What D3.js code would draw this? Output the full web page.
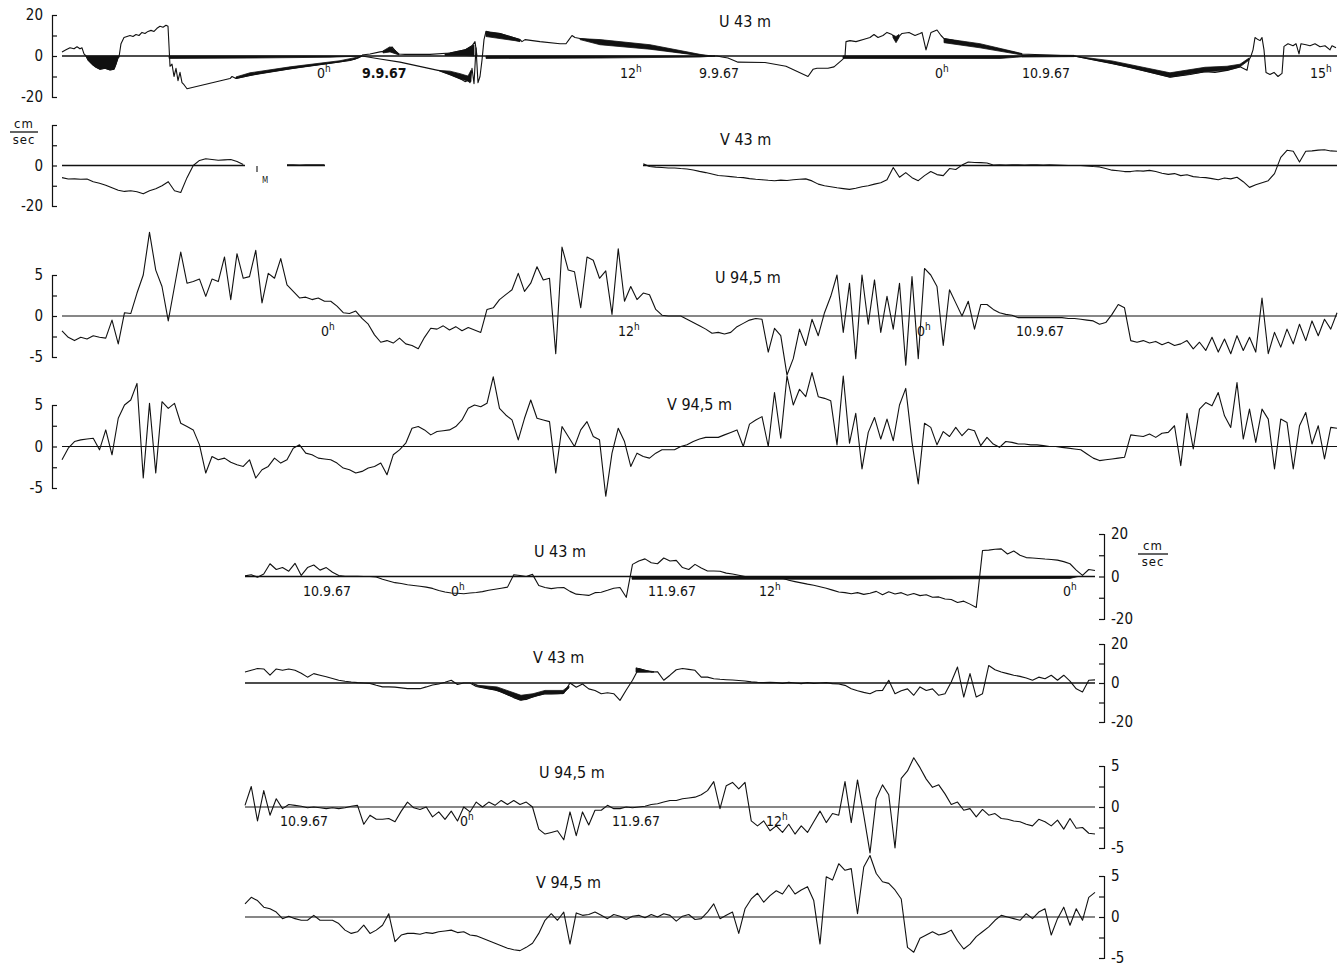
<!DOCTYPE html>
<html>
<head>
<meta charset="utf-8">
<script src="https://cdn.jsdelivr.net/npm/d3@7"></script>
<style>
  html, body { margin: 0; padding: 0; background: #fff; }
  svg { display: block; }
  text { font-family: 'DejaVu Sans Condensed', 'DejaVu Sans', sans-serif; fill: #111; }
</style>
</head>
<body>
<script>
var width = 1344;
var height = 972;
var step = 0.25; // hours between digitised samples

// ---------- upper record, hours from start of record ----------
// U 43 m is drawn as separate pen traces [hour, cm/s]
var u43TopTraceA = [[0,2],[0.16,3],[0.32,4],[0.48,3.5],[0.6,4.5],[0.72,3.5],[0.8,4],[0.88,1],[0.96,0],[1.04,-2],[1.2,-4],[1.36,-5.5],[1.52,-6.5],[1.72,-6],[1.92,-6.8],[2.08,-6.5],[2.16,-4],[2.24,-1],[2.28,-0.5],[2.36,6],[2.48,9],[2.6,9.5],[2.72,10],[2.84,9.5],[2.96,10.5],[3.08,10],[3.2,11.5],[3.32,11],[3.44,12],[3.56,12.5],[3.68,12],[3.8,13.5],[3.92,14.5],[4.04,14],[4.16,15],[4.24,14.5],[4.28,5],[4.32,-5],[4.4,-4],[4.48,-10],[4.56,-6],[4.64,-12],[4.72,-8],[4.8,-13],[4.88,-14],[5.0,-16],[6.72,-11],[6.8,-10],[6.96,-11],[7.92,-8.5],[9.52,-5.5],[10.72,-3.5],[11.52,-2.2],[11.84,-1],[12.0,0]];
var u43TopTraceB = [[12.0,0],[12.72,-1.5],[13.52,-3],[15.04,-7],[15.52,-9],[15.72,-10],[15.92,-11],[16.12,-12.5],[16.24,-12],[16.32,-13],[16.4,-6],[16.48,-13.5],[16.56,4],[16.64,-13],[16.72,-10],[16.8,-2],[16.88,8],[16.96,12],[17.12,11.5],[17.52,11],[17.92,9.5],[18.32,8],[18.4,7],[18.52,8],[19.12,7],[19.92,6],[20.16,6],[20.28,8],[20.4,10],[20.52,9],[20.72,8.5],[25.72,0]];
var u43TopTraceC = [[12.0,0.5],[12.32,1],[12.72,2],[13.04,2.5],[13.2,4.5],[13.36,2],[13.48,1],[13.72,0.8],[14.72,0.8],[15.52,1.5],[16.12,3],[16.4,5],[16.52,7],[16.6,0]];
var u43TopTraceD = [[26.0,0],[26.2,0],[26.4,-0.5],[26.64,-1],[27.04,-3],[28.12,-3.2],[28.96,-5],[29.84,-10],[30.04,-6.5],[30.2,-6],[30.64,-6],[30.88,-5.3],[31.24,-1.5],[31.32,0],[31.36,7],[31.52,7.5],[31.76,7],[32.12,8.3],[32.32,9],[32.48,10.5],[32.64,9],[32.84,10],[33.0,11.5],[33.2,10.5],[33.36,8],[33.6,11],[33.88,11.5],[34.12,10],[34.32,11],[34.4,11.5],[34.56,3],[34.76,11.5],[35.0,12.7],[35.16,10],[35.28,8.5],[38.4,1],[40.48,0]];
var u43TopTraceE = [[40.48,0],[41.52,-2.5],[42.72,-5.5],[44.32,-10.3],[45.12,-9],[45.72,-7.7],[46.12,-8],[46.6,-7],[47.12,-5.3],[47.4,-7],[47.48,-2],[47.56,0],[47.64,3],[47.72,9],[47.84,8],[47.92,7.5],[48.0,9],[48.08,3],[48.16,-8],[48.32,-9],[48.48,-8],[48.64,-10],[48.8,-8.5],[48.88,4.7],[49.04,6],[49.24,5],[49.36,6],[49.48,1],[49.56,6],[49.76,5.5],[49.92,5],[50.12,6],[50.32,4.5],[50.52,5],[50.72,3],[50.8,5],[50.96,4]];
// blackened parts of the U 43 m record [hour, low, high]
var u43TopFill1 = [[0.96,0,0],[1.04,-2,0],[1.2,-4,0],[1.36,-5.5,0],[1.52,-6.5,0],[1.72,-6,0],[1.92,-6.8,0],[2.08,-6.5,0],[2.16,-4,0],[2.24,-1,0],[2.28,0,0]];
var u43TopFill2 = [[6.96,-11,-10.2],[7.52,-9.5,-8.2],[9.12,-6.3,-5.3],[11.12,-2.9,-2.3],[11.72,-1.6,-0.8],[12.0,0,0]];
var u43TopFill3 = [[15.04,-7,-7],[15.52,-9.2,-7.4],[15.92,-11.2,-8.6],[16.24,-12.2,-9.8],[16.36,-12.5,-7]];
var u43TopFill4 = [[16.96,9.5,12],[17.52,8.5,11],[18.12,7.5,8.8],[18.32,7,8]];
var u43TopFill5 = [[20.72,8,8.5],[21.52,5.5,8],[23.52,3.3,5.5],[25.52,0.2,0.8],[26.0,0,0]];
var u43TopFill6 = [[12.84,1.5,2.5],[13.12,2,4.5],[13.36,1,2.5],[13.48,0.5,1]];
var u43TopFill7 = [[15.32,0.3,1],[16.12,0.3,3],[16.48,0,5.5]];
var u43TopFill8 = [[35.28,6.5,8.5],[36.72,4,6],[38.4,0.5,1.2]];
var u43TopFill9 = [[33.24,9,10.2],[33.36,6.5,9.5],[33.48,9,10.5]];
var u43TopFill10 = [[40.48,0,0],[42.0,-3.6,-2.4],[44.32,-10.3,-8.2],[45.72,-7.7,-5.5],[46.6,-7,-5],[47.12,-5.3,-4],[47.48,-2,-1]];
var u43TopZero1 = [[4.28,-1.2,0],[7.52,-1,0],[10.72,-0.6,0],[12.0,0,0]];
var u43TopZero2 = [[16.96,-1.2,0],[21.52,-1,0],[25.52,-0.5,0],[26.12,0,0]];
var u43TopZero3 = [[31.24,-1.2,0],[37.52,-1.2,0],[38.4,-0.4,0]];
var u43TopZero4 = [[38.4,-0.5,0.5],[40.48,-0.3,0.3]];

// V 43 m, one sample every 0.25 h, null where the record is missing
var v43Top = [
  -6.0,-6.7,-6.6,-6.8,-6.7,-8.0,-8.8,-9.8, -11.0,-12.2,-12.8,-12.5,-13.0,-14.0,-12.5,-11.5,
  -10.0,-8.0,-12.5,-13.3,-6.0,0.0,2.5,3.3, 3.0,2.6,2.8,3.0,2.0,0.5,null,null,
  null,null,null,null,0.3,0.3,0.2,0.3, 0.3,0.4,0.3,
  null,null,null,null,null,null,null,null,null,null,null,null,null,null,null,null,null,null,null,null,null,null,null,null,null,
  null,null,null,null,null,null,null,null,null,null,null,null,null,null,null,null,null,null,null,null,null,null,null,null,null,
  0.8,-0.5,-0.8,-1.0,-1.2,-1.2,-1.5,-1.7,-2.2,-2.9,-3.5,-4.2,-4.9,-5.2,-5.5,-5.8,-6.0,-6.5,-6.8,-7.0,
  -7.3,-7.5,-7.2,-7.4,-7.0,-6.8,-6.6,-7.6,-9.2,-10.0,-10.5,-11.0,-11.4,-11.8,-11.2,-10.5,-10.0,-9.2,-8.5,-7.0,
  -1.0,-5.8,-3.5,-6.0,-7.5,-5.0,-3.0,-4.5,-5.0,-1.5,-2.0,0.2,1.7,1.5,1.4,1.2,0.2,0.3,0.2,0.3,
  0.3,0.2,0.3,0.3,0.2,0.3,0.2,0.1,0.0,0.0,0.0,-0.2,-0.5,-0.7,-1.5,-2.3,-2.6,-3.0,-3.0,-2.6,
  -2.8,-2.4,-3.0,-3.8,-4.4,-4.0,-5.0,-4.6,-5.5,-5.8,-6.0,-6.5,-7.0,-6.2,-6.6,-5.8,-8.0,-10.8,-9.5,-8.5,
  -7.5,-4.0,4.0,7.5,7.0,1.7,7.0,7.2,7.6,7.8,7.2,7.0
];
var v43TopZero = [[0, 7.32], [9.0, 10.52], [23.24, 51]];
var v43TopMark = [[7.8, -0.3], [7.8, -3.2]];

var u945Top = [
  -1.8,-2.6,-3.0,-2.6,-2.8,-2.4,-2.6,-2.7, -0.5,-3.4,0.4,0.3,2.8,5.0,10.2,5.6,
  3.6,-0.6,3.6,7.8,4.0,4.2,4.5,2.4, 4.5,4.2,7.2,2.0,7.6,4.6,4.8,8.0,
  1.6,5.2,4.6,7.0,3.8,3.0,2.2,2.3, 2.0,2.2,1.8,1.8,1.2,0.4,0.3,0.6,
  -0.3,-1.0,-2.3,-3.2,-3.0,-3.3,-2.7,-3.4, -3.6,-4.0,-2.6,-1.5,-1.6,-1.2,-1.7,-1.3,
  -1.8,-1.4,-1.7,-2.0,0.8,1.0,2.0,2.6, 3.2,5.2,3.0,4.0,6.0,4.4,4.6,-4.6,
  8.4,5.6,5.4,1.0,7.2,6.8,4.6,5.5, 0.2,8.2,1.8,3.6,2.0,2.8,2.6,0.8,
  0.1,0.0,0.0,0.0,-0.4,-0.8,-1.2,-1.6, -2.1,-2.0,-2.2,-2.0,-1.3,-0.9,-0.5,-0.3,
  -0.4,-4.4,-1.5,-2.4,-7.2,-5.2,-1.6,-3.6, -0.4,-2.4,0.4,2.4,5.0,-2.0,4.0,-5.2,
  5.0,-1.0,4.4,-2.0,2.4,-1.6,4.0,-6.0, 4.8,-5.2,5.8,5.0,3.6,-3.6,3.2,1.6,
  0.0,1.8,-1.6,1.4,1.4,0.8,0.4,0.2, 0.1,-0.2,-0.2,-0.2,-0.2,-0.2,-0.2,-0.2,
  -0.2,-0.3,-0.3,-0.4,-0.5,-0.6,-1.0,-0.8, 0.2,1.4,1.0,-3.0,-3.2,-3.0,-3.3,-3.1,
  -3.5,-3.2,-3.6,-3.4,-3.0,-4.0,-3.2,-4.2, -2.6,-4.4,-2.8,-4.6,-2.4,-4.2,-2.6,-4.4,
  2.2,-4.6,-2.0,-3.8,-1.6,-3.4,-1.0,-3.0, -0.6,-2.4,-0.4,-1.6,0.4
];

var v945Top = [
  -1.6,-0.2,0.6,0.8,0.9,1.0,-0.4,2.0, -1.0,3.4,5.0,5.6,7.6,-3.8,5.2,-3.2,
  5.4,4.6,5.2,2.8,2.4,2.0,0.2,-3.2, -1.2,-1.6,-1.4,-1.9,-2.2,-2.4,-1.6,-3.8,
  -2.8,-2.4,-1.4,-2.0,-1.6,-0.2,0.2,-0.8, -1.0,-1.4,-1.5,-1.6,-2.0,-2.6,-2.8,-3.2,
  -3.0,-2.6,-2.4,-2.0,-3.4,-1.0,-0.4,0.4, 2.2,2.4,2.0,1.4,1.8,1.9,2.0,2.4,
  3.2,4.6,5.0,4.8,5.2,8.4,4.6,3.8, 3.2,0.8,3.4,5.6,3.4,3.2,3.0,-3.2,
  2.4,1.2,0.0,2.0,3.0,1.2,0.8,-6.0, -0.8,2.2,0.6,-2.4,-0.8,-1.2,-1.4,-0.8,
  -0.4,-0.4,-0.4,0.0,0.2,0.6,0.9,1.1, 1.1,1.1,1.4,1.7,2.0,0.0,2.7,3.2,
  3.6,0.0,6.5,1.0,8.5,5.0,6.9,6.0, 8.9,6.0,5.8,5.5,0.2,8.5,0.4,4.0,
  -2.7,1.7,3.5,0.9,3.3,0.7,5.0,7.0, 0.5,-4.5,2.8,2.3,0.2,1.8,1.2,2.3,
  1.3,2.1,1.9,0.1,1.1,0.3,-0.1,0.6, 0.5,0.3,0.3,0.2,0.2,0.1,0.0,0.0,
  -0.1,-0.2,-0.3,-0.4,-0.9,-1.4,-1.7,-1.6, -1.5,-1.4,-1.3,1.4,1.3,1.2,1.5,1.1,
  1.6,1.7,2.5,-2.3,4.0,-0.3,4.5,5.3, 4.9,6.5,3.7,2.3,7.7,0.9,4.5,0.5,
  4.5,3.3,-2.7,3.3,2.9,-2.7,2.5,4.1, 0.3,2.5,-1.5,2.3,2.2
];

// ---------- lower record (10.9.67 - 12.9.67) ----------
var u43Bot = [
  0.3,0.8,-0.3,1.2,6.0,3.3,4.2,2.5,6.2,0.5, 4.2,5.4,3.0,4.2,2.0,0.5,0.1,0.1,0.1,0.0,
  0.0,-0.2,-1.3,-2.1,-2.9,-3.3,-3.9,-4.2,-4.6,-5.0, -5.6,-6.6,-7.3,-7.8,-7.9,-8.1,-7.8,-7.5,-7.1,-6.5,
  -6.0,-5.5,-5.0,0.8,0.5,0.0,1.0,-4.2,-5.2,-5.7, -5.3,-5.2,-7.0,-8.3,-8.6,-8.9,-7.6,-7.4,-6.5,-5.5,
  -5.2,-9.8,5.7,7.3,8.3,6.5,6.0,8.7,7.3,7.6, 4.2,3.3,5.7,4.0,2.6,2.6,2.5,1.6,1.2,0.6,
  0.0,0.0,0.0,0.0,0.0,-0.3,-0.8,-1.8,-2.4,-3.0, -3.6,-4.1,-4.8,-5.5,-6.4,-7.3,-7.6,-8.1,-7.6,-8.4,
  -7.9,-7.0,-8.6,-7.2,-8.2,-7.6,-8.8,-8.0,-9.0,-8.6, -9.8,-9.6,-10.6,-10.8,-12.2,-11.6,-13.0,-14.6,12.2,12.4,
  12.8,13.0,10.6,12.0,10.0,8.9,8.7,8.5,8.2,8.0, 7.7,7.0,6.0,3.0,0.5,3.3,2.8
];
var u43BotZero = [[15.48,-1.3,0],[25,-1.3,0],[33.0,-0.9,0],[33.32,0,0]];

var v43Bot = [
  5.6,6.5,7.4,7.2,4.0,7.2,6.5,7.2,6.5,5.0, 3.0,4.8,4.0,3.2,2.3,1.4,0.9,0.5,0.2,0.0,
  -0.2,-1.2,-2.0,-2.0,-2.1,-2.5,-2.9,-2.8,-2.9,-2.0, -1.0,-0.5,0.4,1.4,-0.8,0.0,0.0,-1.8,-2.4,-3.0,
  -3.6,-4.6,-6.0,-7.5,-8.7,-8.4,-7.2,-6.2,-5.5,-5.6, -5.5,-5.2,0.0,-2.2,-0.5,-3.0,-3.8,-5.5,-5.0,-5.5,
  -8.9,-3.6,1.4,7.4,6.5,5.6,5.8,1.4,4.0,6.8, 7.4,7.0,6.5,3.0,3.0,2.2,1.9,1.7,1.5,1.3,
  1.0,0.6,0.3,0.2,0.3,0.2,-0.2,0.3,0.0,-0.3, 0.2,-0.2,0.0,0.2,-0.3,-0.5,-1.2,-2.9,-4.0,-4.8,
  -5.5,-4.0,-3.8,1.4,-5.5,-4.0,-3.0,-6.3,-2.0,-3.8, -3.0,-6.3,-5.5,0.5,8.2,-7.2,4.8,-7.2,-5.5,9.0,
  6.8,5.6,4.8,4.0,3.4,2.6,1.4,3.0,2.2,4.0, 1.4,4.0,1.0,-3.0,-4.6,1.4,1.6
];
var v43BotFill1 = [[9.08,0,0],[9.32,-1.2,-1.8],[10.08,-2,-3.8],[11.04,-6.3,-8.9],[11.52,-5.5,-7.2],[12.0,-3.8,-5.5],[12.72,-3.8,-5.5],[12.96,-1.5,-2.5]];
var v43BotFill2 = [[15.64,5.5,7.8],[16.0,5.5,6.5],[16.36,5.6,5.8]];

var u945Bot = [
  0.2,2.5,-1.7,2.0,-1.0,1.0,-0.2,0.3,0.2,0.1, -0.1,0.0,-0.1,-0.2,-0.1,-0.2,-0.1,0.1,0.2,-2.1,
  -1.0,-1.5,-1.5,-1.4,-1.8,-0.5,0.6,-0.1,-0.3,0.0, -1.2,-0.6,-1.5,-0.5,-1.7,0.0,-0.6,0.6,0.0,0.6,
  0.2,0.8,0.3,0.8,0.3,0.6,0.0,-2.7,-3.3,-3.1, -2.9,-4.0,-0.6,-3.5,-0.6,-2.2,-0.4,-0.4,0.2,-0.2,
  -0.2,0.0,-0.1,0.0,0.1,0.3,0.4,0.6,0.8,0.8, 1.0,1.1,1.2,1.5,2.0,3.1,-0.2,2.6,3.0,2.2,
  3.0,-1.7,-2.3,-1.7,-2.9,-2.3,-3.1,-2.1,-3.3,-2.3, -3.1,-1.8,-0.5,-1.9,-0.8,-1.0,3.1,-1.9,3.3,-1.0,
  -5.6,1.0,2.7,1.5,-5.0,3.5,4.4,6.0,4.8,3.4, 2.4,2.7,1.6,0.3,0.6,-0.4,-0.2,-1.2,-0.3,-1.0,
  -0.8,-1.4,-1.5,-1.7,-1.8,-2.1,-2.3,-1.5,-1.8,-2.3, -1.6,-2.7,-1.4,-2.6,-2.5,-3.2,-3.3
];

var v945Bot = [
  1.6,2.4,2.0,1.2,1.0,0.6,-0.2,0.1,-0.2,-0.4, -0.4,0.2,-0.4,-0.4,-0.4,-0.8,-1.6,-2.0,-1.8,-1.0,
  -2.0,-1.6,-1.0,0.4,-3.0,-2.2,-2.0,-2.0,-2.1,-1.9, -2.0,-1.8,-1.7,-1.6,-1.9,-1.8,-2.2,-2.3,-2.6,-2.9,
  -3.2,-3.5,-3.8,-4.0,-4.1,-3.7,-3.2,-2.0,-0.4,0.4, -0.4,0.6,-3.3,0.5,0.2,0.3,0.6,0.2,-0.2,0.3,
  0.1,-0.3,0.1,0.2,-0.1,0.3,0.0,0.4,0.2,-0.5, 0.1,0.3,-0.3,-0.2,0.6,1.6,-0.2,0.2,0.6,-2.0,
  1.0,2.2,2.9,1.8,2.6,3.2,2.8,3.9,2.8,3.3, 3.7,2.0,-3.3,4.9,4.5,6.5,5.7,5.9,0.4,6.1,
  7.5,5.3,4.3,4.1,3.3,2.2,-3.7,-4.3,-2.6,-2.2, -1.8,-2.2,-2.0,-1.6,-2.9,-3.9,-3.3,-2.4,-1.8,-1.2,
  -0.4,0.2,0.0,-0.2,-0.4,0.4,-0.2,0.6,1.0,-2.2, -0.2,1.2,-1.0,1.0,-0.4,2.4,3.0
];

// ---------- time annotations under the zero lines ----------
var u43TopTimes = [
  {t: 10.2, text: '0', sup: 'h'}, {t: 12.0, text: '9.9.67', bold: true},
  {t: 22.32, text: '12', sup: 'h'}, {t: 25.48, text: '9.9.67'},
  {t: 34.92, text: '0', sup: 'h'}, {t: 38.4, text: '10.9.67'}, {t: 49.92, text: '15', sup: 'h'}
];
var u945TopTimes = [
  {t: 10.36, text: '0', sup: 'h'}, {t: 22.24, text: '12', sup: 'h'},
  {t: 34.2, text: '0', sup: 'h'}, {t: 38.16, text: '10.9.67'}
];
var u43BotTimes = [
  {t: 2.32, text: '10.9.67'}, {t: 8.24, text: '0', sup: 'h'}, {t: 16.12, text: '11.9.67'},
  {t: 20.56, text: '12', sup: 'h'}, {t: 32.72, text: '0', sup: 'h'}
];
var u945BotTimes = [
  {t: 1.4, text: '10.9.67'}, {t: 8.6, text: '0', sup: 'h'},
  {t: 14.68, text: '11.9.67'}, {t: 20.84, text: '12', sup: 'h'}
];

// ---------- drawing ----------
var svg = d3.select('body').append('svg')
  .attr('width', width)
  .attr('height', height);

var xTop = d3.scaleLinear().domain([0, 51]).range([62, 1337]);
var xBot = d3.scaleLinear().domain([0, 34]).range([245, 1095]);

var toPoints = function(values) {
  return values.map(function(v, i) { return [i * step, v]; });
};

var panels = [
  {title: 'U 43 m', tx: 719, ty: 27, x: xTop, y: d3.scaleLinear().domain([-20, 20]).range([97, 15]),
   side: 'left', labelled: [20, 0, -20], minor: [10, -10],
   traces: [u43TopTraceA, u43TopTraceB, u43TopTraceC, u43TopTraceD, u43TopTraceE],
   bands: [u43TopFill1, u43TopFill2, u43TopFill3, u43TopFill4, u43TopFill5, u43TopFill6, u43TopFill7,
           u43TopFill8, u43TopFill9, u43TopFill10, u43TopZero1, u43TopZero2, u43TopZero3, u43TopZero4],
   zero: [[0, 51]], zeroWidth: 1.5, times: u43TopTimes, timeDy: 22},
  {title: 'V 43 m', tx: 720, ty: 145, x: xTop, y: d3.scaleLinear().domain([-20, 20]).range([206, 125]),
   side: 'left', labelled: [0, -20], minor: [20, 10, -10],
   traces: [toPoints(v43Top), v43TopMark], bands: [], zero: v43TopZero, zeroWidth: 1.3, times: [], timeDy: 0},
  {title: 'U 94,5 m', tx: 715, ty: 283, x: xTop, y: d3.scaleLinear().domain([-5, 5]).range([357, 275]),
   side: 'left', labelled: [5, 0, -5], minor: [2.5, -2.5],
   traces: [toPoints(u945Top)], bands: [], zero: [[0, 51]], zeroWidth: 1.2, times: u945TopTimes, timeDy: 20},
  {title: 'V 94,5 m', tx: 667, ty: 410, x: xTop, y: d3.scaleLinear().domain([-5, 5]).range([488, 405]),
   side: 'left', labelled: [5, 0, -5], minor: [2.5, -2.5],
   traces: [toPoints(v945Top)], bands: [], zero: [[0, 51]], zeroWidth: 1.2, times: [], timeDy: 0},
  {title: 'U 43 m', tx: 534, ty: 557, x: xBot, y: d3.scaleLinear().domain([-20, 20]).range([619, 534]),
   side: 'right', labelled: [20, 0, -20], minor: [10, -10],
   traces: [toPoints(u43Bot)], bands: [u43BotZero], zero: [[0, 34]], zeroWidth: 1.3, times: u43BotTimes, timeDy: 19},
  {title: 'V 43 m', tx: 533, ty: 663, x: xBot, y: d3.scaleLinear().domain([-20, 20]).range([722, 644]),
   side: 'right', labelled: [20, 0, -20], minor: [10, -10],
   traces: [toPoints(v43Bot)], bands: [v43BotFill1, v43BotFill2], zero: [[0, 34]], zeroWidth: 1.3, times: [], timeDy: 0},
  {title: 'U 94,5 m', tx: 539, ty: 778, x: xBot, y: d3.scaleLinear().domain([-5, 5]).range([848, 766]),
   side: 'right', labelled: [5, 0, -5], minor: [2.5, -2.5],
   traces: [toPoints(u945Bot)], bands: [], zero: [[0, 34]], zeroWidth: 1.2, times: u945BotTimes, timeDy: 19},
  {title: 'V 94,5 m', tx: 536, ty: 888, x: xBot, y: d3.scaleLinear().domain([-5, 5]).range([958, 876]),
   side: 'right', labelled: [5, 0, -5], minor: [2.5, -2.5],
   traces: [toPoints(v945Bot)], bands: [], zero: [[0, 34]], zeroWidth: 1.2, times: [], timeDy: 0}
];

panels.forEach(function(p) {
  var g = svg.append('g');
  var axisX = p.side === 'left' ? 52 : 1104;

  // bracket with inward ticks
  var bracket = (p.side === 'left' ? d3.axisRight(p.y) : d3.axisLeft(p.y))
    .tickValues(p.labelled.concat(p.minor))
    .tickSize(5)
    .tickSizeOuter(5)
    .tickFormat('');
  g.append('g')
    .attr('transform', 'translate(' + axisX + ',0)')
    .call(bracket)
    .call(function(s) {
      s.selectAll('path, line').attr('stroke', '#111').attr('stroke-width', 1.2);
    });

  // value labels on the outer side
  var labels = (p.side === 'left' ? d3.axisLeft(p.y) : d3.axisRight(p.y))
    .tickValues(p.labelled)
    .tickSize(0)
    .tickPadding(p.side === 'left' ? 9 : 7)
    .tickFormat(function(d) { return String(d); });
  g.append('g')
    .attr('transform', 'translate(' + axisX + ',0)')
    .call(labels)
    .call(function(s) {
      s.select('.domain').remove();
      s.attr('font-size', 15).attr('font-family', null);
      s.selectAll('text').attr('fill', '#111');
    });

  // zero lines
  g.selectAll('line.zero').data(p.zero).enter()
    .append('line')
    .attr('class', 'zero')
    .attr('x1', function(d) { return p.x(d[0]); })
    .attr('x2', function(d) { return p.x(d[1]); })
    .attr('y1', p.y(0))
    .attr('y2', p.y(0))
    .attr('stroke', '#111')
    .attr('stroke-width', p.zeroWidth);

  // blackened parts of the record
  var area = d3.area()
    .x(function(d) { return p.x(d[0]); })
    .y0(function(d) { return p.y(d[1]); })
    .y1(function(d) { return p.y(d[2]); });
  g.selectAll('path.band').data(p.bands).enter()
    .append('path')
    .attr('class', 'band')
    .attr('d', area)
    .attr('fill', '#111')
    .attr('stroke', '#111')
    .attr('stroke-width', 0.8);

  // pen traces
  var line = d3.line()
    .defined(function(d) { return d[1] !== null; })
    .x(function(d) { return p.x(d[0]); })
    .y(function(d) { return p.y(d[1]); });
  g.selectAll('path.trace').data(p.traces).enter()
    .append('path')
    .attr('class', 'trace')
    .attr('d', line)
    .attr('fill', 'none')
    .attr('stroke', '#111')
    .attr('stroke-width', 1.1)
    .attr('stroke-linejoin', 'round');

  // title
  g.append('text')
    .attr('x', p.tx)
    .attr('y', p.ty)
    .attr('font-size', 16)
    .text(p.title);

  // time marks
  g.selectAll('text.time').data(p.times).enter()
    .append('text')
    .attr('class', 'time')
    .attr('x', function(d) { return p.x(d.t); })
    .attr('y', p.y(0) + p.timeDy)
    .attr('font-size', 14)
    .attr('font-weight', function(d) { return d.bold ? 'bold' : null; })
    .each(function(d) {
      var t = d3.select(this);
      t.append('tspan').text(d.text);
      if (d.sup) t.append('tspan').attr('font-size', 10).attr('dy', -6).text(d.sup);
    });
});

// unit labels
var unit = function(cx, top, w) {
  svg.append('text').attr('x', cx).attr('y', top).attr('font-size', 13)
    .attr('text-anchor', 'middle').attr('letter-spacing', 1).text('cm');
  svg.append('line').attr('x1', cx - w / 2).attr('x2', cx + w / 2)
    .attr('y1', top + 4).attr('y2', top + 4).attr('stroke', '#111').attr('stroke-width', 1.3);
  svg.append('text').attr('x', cx).attr('y', top + 16).attr('font-size', 13)
    .attr('text-anchor', 'middle').attr('letter-spacing', 1).text('sec');
};
unit(24, 128, 28);
unit(1153, 550, 30);

// pen marker on the V 43 m record
svg.append('text')
  .attr('x', xTop(8.0))
  .attr('y', panels[1].y(-8.8))
  .attr('font-size', 8)
  .attr('fill', '#555')
  .text('M');
</script>
</body>
</html>
